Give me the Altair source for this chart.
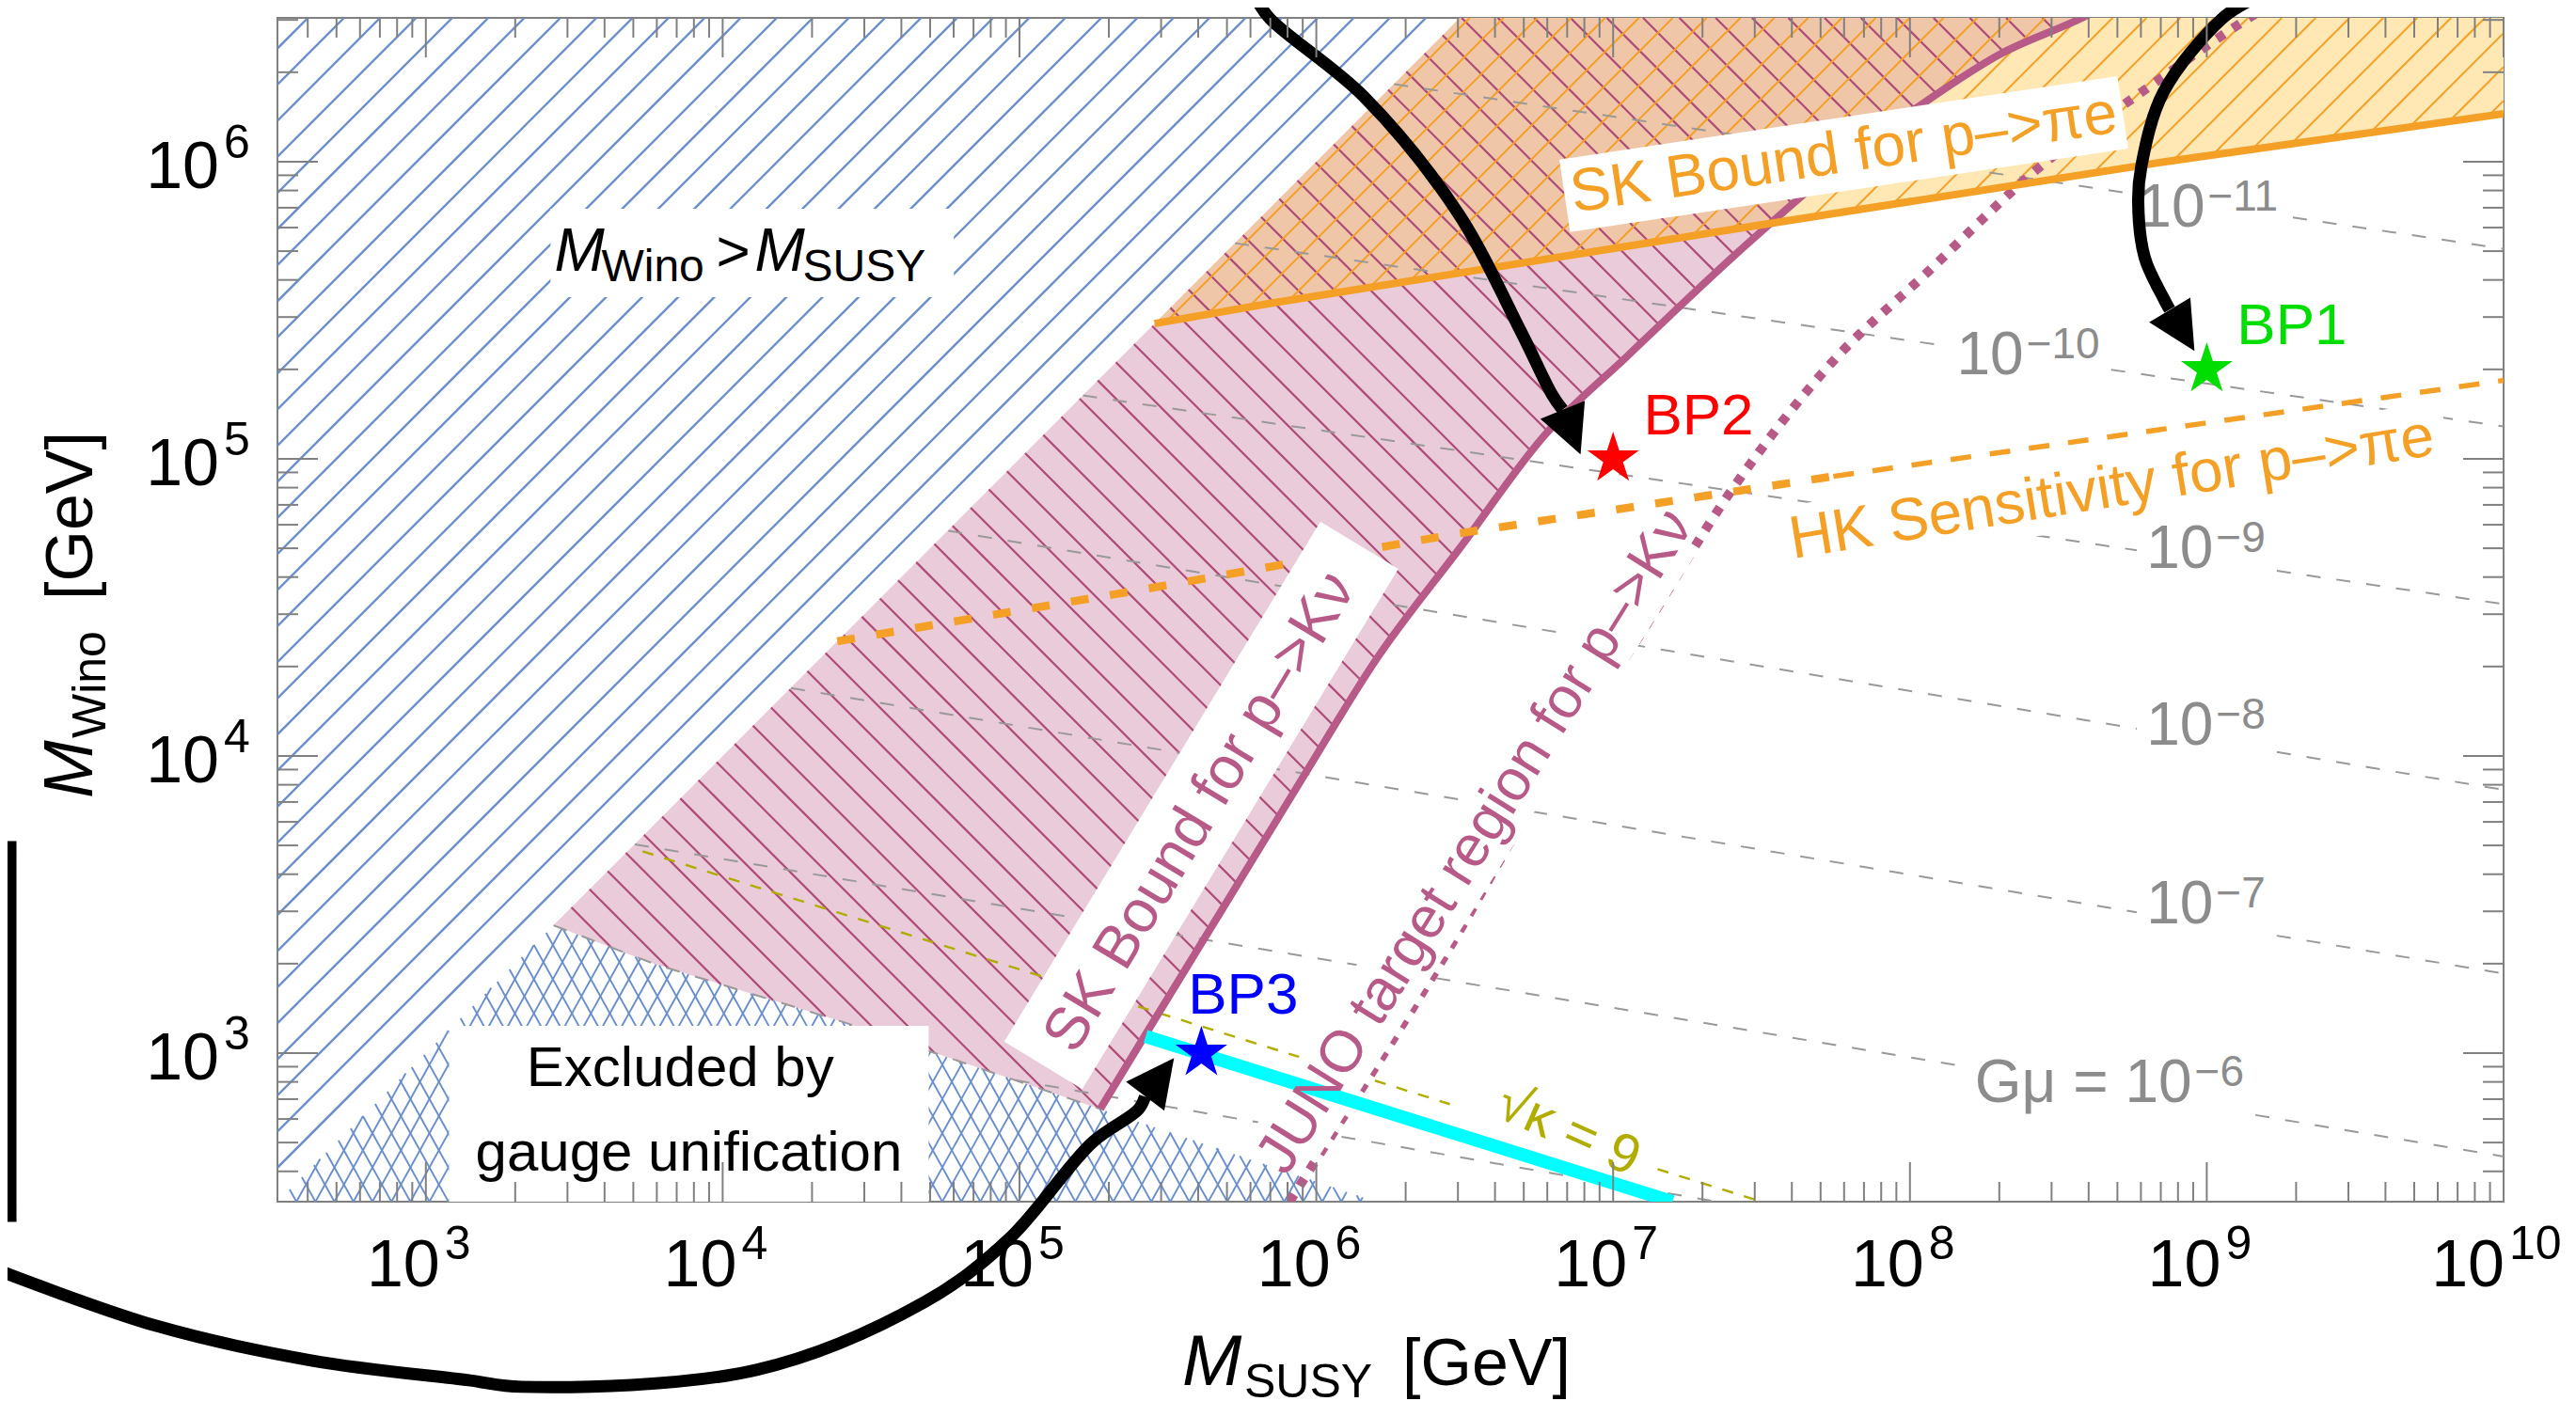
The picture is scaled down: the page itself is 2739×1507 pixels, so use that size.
import numpy as np
import pandas as pd
import altair as alt

# ---------------------------------------------------------------- layout
W, H = 2367, 1259
LX0, LX1 = 2.5, 10.0      # log10 M_SUSY range
LY0, LY1 = 2.5, 6.484     # log10 M_Wino range
PXD = W / (LX1 - LX0)     # px per decade
FONT = "Liberation Sans"

# ---------------------------------------------------------------- data (log10 GeV)
# SK bound for p -> K nu (right edge of pink region)
sk_k_lx = [5.272, 5.42, 5.683, 5.95, 6.206, 6.484, 6.77, 7.045, 7.426, 7.75, 8.05, 8.30, 8.58, 8.80]
sk_k_ly = [2.812, 3.055, 3.484, 3.92, 4.331, 4.70, 5.08, 5.343, 5.70, 5.98, 6.20, 6.36, 6.484, 6.60]
# JUNO target region for p -> K nu
juno_lx = [5.91, 5.975, 6.41, 6.877, 7.068, 7.403, 7.733, 8.059, 8.43, 8.80, 9.111, 9.20]
juno_ly = [2.50, 2.603, 3.29, 4.087, 4.372, 4.90, 5.32, 5.628, 5.976, 6.248, 6.464, 6.52]
# gauge unification boundary
gauge_lx = [3.43, 3.77, 4.39, 5.272, 6.20]
gauge_ly = [3.43, 3.30, 3.11, 2.812, 2.50]
# SK bound p -> pi e
sk_pe_lx = [5.455, 5.842, 7.426, 8.86, 10.0]
sk_pe_ly = [5.455, 5.523, 5.776, 6.00, 6.161]
# HK sensitivity p -> pi e
hk_lx = [4.386, 5.367, 6.475, 7.742, 10.0]
hk_ly = [4.386, 4.552, 4.748, 4.941, 5.264]
# sqrt(kappa) = 9
kappa_lx = [3.73, 7.50]
kappa_ly = [3.679, 2.50]
# cyan line through BP3
cyan_lx = [5.425, 7.20]
cyan_ly = [3.056, 2.50]
# G mu contours: value at M_SUSY=1e10 and one more point on each line
gmu_exp = [-11, -10, -9, -8, -7, -6, -5]
gmu_right_ly = [5.707, 5.109, 4.511, 3.886, 3.268, 2.652, 2.041]
gmu_left_lx = [6.262, 7.311, 8.446, 5.367, 6.846, 5.553, 5.557]
gmu_left_ly = [6.261, 5.497, 4.739, 4.657, 3.793, 3.394, 2.810]
gmu_lab_lx = [8.994, 8.383, 9.022, 9.022, 9.022, 8.950]
gmu_lab_ly = [5.842, 5.345, 4.694, 4.098, 3.497, 2.896]
gmu_lab_main = ["10", "10", "10", "10", "10", "G\u03bc = 10"]
gmu_lab_sup = ["\u221211", "\u221210", "\u22129", "\u22128", "\u22127", "\u22126"]
# benchmark points
bp_name = ["BP1", "BP2", "BP3"]
bp_msusy = [1e9, 1e7, 4.1e5]
bp_mwino = [2e5, 1e5, 1e3]
bp_color = ["#00dd00", "#ff0000", "#0000ff"]
bp_lab_lx = [9.101, 7.102, 5.568]
bp_lab_ly = [5.386, 5.082, 3.133]
# annotation arrows (log10 coordinates, partly outside the frame)
arrow_bp2_lx = [5.800, 5.844, 6.161, 6.478, 6.690, 6.795, 6.830]
arrow_bp2_ly = [6.544, 6.481, 6.218, 5.826, 5.427, 5.215, 5.165]
arrow_bp1_lx = [9.149, 9.051, 8.854, 8.780, 8.769, 8.791, 8.854, 8.875]
arrow_bp1_ly = [6.544, 6.481, 6.234, 5.987, 5.864, 5.677, 5.541, 5.502]
arrow_bp3_lx = [1.567, 2.092, 2.618, 3.144, 3.322, 4.114, 4.678, 4.963, 5.245, 5.400, 5.423]
arrow_bp3_ly = [2.266, 2.082, 1.965, 1.899, 1.877, 1.934, 2.161, 2.373, 2.699, 2.810, 2.854]
head_lx = [6.860, 8.917, 5.472]
head_ly = [5.090, 5.432, 2.919]
head_angle = [158, 149, 37]
bracket_lx = [1.40, 1.597, 1.597, 1.40]
bracket_ly = [3.690, 3.690, 2.456, 2.456]
# tick values
x_major = [10.0 ** e for e in range(3, 11)]
x_minor = [k * 10.0 ** e for e in range(2, 10) for k in range(2, 10) if 10 ** LX0 < k * 10.0 ** e < 10 ** LX1]
y_major = [10.0 ** e for e in range(3, 7)]
y_minor = [k * 10.0 ** e for e in range(2, 7) for k in range(2, 10) if 10 ** LY0 < k * 10.0 ** e < 10 ** LY1]

# ---------------------------------------------------------------- colors
PINK_FILL = "#eacbd9"
PINK_LINE = "#ad4a78"
PINK_CURVE = "#b85a87"
YEL_FILL = "#ffe8b4"
MIX_FILL = "#efc6a8"
ORANGE = "#f4a026"
BLUE = "#6a8ecb"
GRAY = "#999999"
OLIVE = "#b0ad00"
TICK = "#808080"

xs = alt.Scale(type="log", domain=[10 ** LX0, 10 ** LX1], nice=False)
ys = alt.Scale(type="log", domain=[10 ** LY0, 10 ** LY1], nice=False)


def XE(f="x"):
    return alt.X(f"{f}:Q", scale=xs, axis=None)


def YE(f="y"):
    return alt.Y(f"{f}:Q", scale=ys, axis=None)


def pts(lx, ly):
    lx = np.asarray(lx, float)
    ly = np.asarray(ly, float)
    return pd.DataFrame({"x": 10 ** lx, "y": 10 ** ly, "i": np.arange(len(lx))})


def line(lx, ly, color, width, dash=None, interp="linear", clip=True, cap="butt"):
    kw = dict(color=color, strokeWidth=width, interpolate=interp, clip=clip, strokeCap=cap, opacity=1)
    if dash is not None:
        kw["strokeDash"] = dash
    return alt.Chart(pts(lx, ly)).mark_line(**kw).encode(x=XE(), y=YE(), order="i:Q")


def segs_df(segs):
    a = np.array(segs, float).reshape(-1, 4)
    return pd.DataFrame({"x": 10 ** a[:, 0], "y": 10 ** a[:, 1], "x2": 10 ** a[:, 2], "y2": 10 ** a[:, 3]})


def rules(segs, color, width, dash=None, clip=True, cap="butt"):
    kw = dict(color=color, strokeWidth=width, clip=clip, strokeCap=cap, opacity=1)
    if dash is not None:
        kw["strokeDash"] = dash
    return alt.Chart(segs_df(segs)).mark_rule(**kw).encode(x=XE(), y=YE(), x2="x2:Q", y2="y2:Q")


def hatch(poly, m, dc, c0):
    P = np.asarray(poly, float)
    n = len(P)
    cv = P[:, 1] - m * P[:, 0]
    k0 = int(np.ceil((cv.min() - c0) / dc))
    k1 = int(np.floor((cv.max() - c0) / dc))
    out = []
    for k in range(k0, k1 + 1):
        c = c0 + k * dc
        hits = []
        for i in range(n):
            x1, y1 = P[i]
            x2, y2 = P[(i + 1) % n]
            f1 = y1 - m * x1 - c
            f2 = y2 - m * x2 - c
            if (f1 > 0) != (f2 > 0):
                t = f1 / (f1 - f2)
                hits.append((x1 + t * (x2 - x1), y1 + t * (y2 - y1)))
        hits.sort()
        for j in range(0, len(hits) - 1, 2):
            out.append([hits[j][0], hits[j][1], hits[j + 1][0], hits[j + 1][1]])
    return out


CW = {"0": .556, "1": .556, "2": .556, "3": .556, "4": .556, "5": .556, "6": .556, "7": .556,
      "8": .556, "9": .556, "G": .778, "\u03bc": .576, " ": .278, "=": .584, "\u2212": .584}


def tw(s, size):
    return sum(CW.get(ch, .556) for ch in s) * size


def txt(lx, ly, t, size, color="black", align="center", baseline="middle", angle=0, dx=0, dy=0,
        italic=False):
    d = pd.DataFrame({"x": 10 ** np.atleast_1d(np.asarray(lx, float)),
                      "y": 10 ** np.atleast_1d(np.asarray(ly, float)),
                      "t": list(np.atleast_1d(t))})
    kw = dict(font=FONT, fontSize=size, color=color, align=align, baseline=baseline, angle=angle,
              dx=dx, dy=dy, opacity=1)
    if italic:
        kw["fontStyle"] = "italic"
    return alt.Chart(d).mark_text(**kw).encode(x=XE(), y=YE(), text="t:N")


def ptxt(px, py, t, size, align="left", baseline="alphabetic", angle=0, italic=False):
    d = pd.DataFrame({"t": [t]})
    kw = dict(font=FONT, fontSize=size, color="black", align=align, baseline=baseline, angle=angle)
    if italic:
        kw["fontStyle"] = "italic"
    return alt.Chart(d).mark_text(**kw).encode(x=alt.value(px), y=alt.value(py), text="t:N")


def rbox(lx1, ly1, lx2, ly2, width):
    return rules([[lx1, ly1, lx2, ly2]], "white", width)


def box(lx1, lx2, ly1, ly2):
    d = pd.DataFrame({"x": [10 ** lx1], "x2": [10 ** lx2], "y": [10 ** ly1], "y2": [10 ** ly2]})
    return alt.Chart(d).mark_rect(color="white", opacity=1, clip=True).encode(
        x=XE(), x2="x2:Q", y=YE(), y2="y2:Q")


def area(lx, lylo, color):
    d = pd.DataFrame({"x": 10 ** np.asarray(lx, float), "ylo": 10 ** np.asarray(lylo, float)})
    d["yhi"] = d["x"]          # upper edge: M_Wino = M_SUSY (clipped by the frame)
    return alt.Chart(d).mark_area(color=color, opacity=1, clip=True).encode(
        x=XE(), y=YE("ylo"), y2="yhi:Q")


layers = []

# ---------------------------------------------------------------- filled regions
layers.append(area(gauge_lx[:3] + sk_k_lx, gauge_ly[:3] + sk_k_ly, PINK_FILL))
layers.append(area(sk_pe_lx, sk_pe_ly, YEL_FILL))

# overlap of the two excluded regions: above SK(p->pi e) and left of SK(p->K nu)
sk_on_pe = np.interp(sk_k_lx, sk_pe_lx, sk_pe_ly)
d_k = np.array(sk_k_ly) - sk_on_pe
j = int(np.flatnonzero(d_k > 0)[0])
t_ = -d_k[j - 1] / (d_k[j] - d_k[j - 1])
x_int = sk_k_lx[j - 1] + t_ * (sk_k_lx[j] - sk_k_lx[j - 1])
y_int = sk_k_ly[j - 1] + t_ * (sk_k_ly[j] - sk_k_ly[j - 1])
ov_lx = [v for v in sk_pe_lx if v < x_int] + [x_int] + [v for v in sk_k_lx if v > x_int]
ov_ly = [b for a, b in zip(sk_pe_lx, sk_pe_ly) if a < x_int] + [y_int] + \
        [b for a, b in zip(sk_k_lx, sk_k_ly) if a > x_int]
layers.append(area(ov_lx, ov_ly, MIX_FILL))

# ---------------------------------------------------------------- hatching
sk_in = [(a, b) for a, b in zip(sk_k_lx, sk_k_ly) if b <= LY1 + 1e-9]
pink_poly = list(zip(gauge_lx[:4], gauge_ly[:4])) + sk_in[1:] + [(LY1, LY1)]
orange_poly = list(zip(sk_pe_lx, sk_pe_ly)) + [(LX1, LY1), (LY1, LY1)]
gauge_poly = [(LX0, LY0)] + list(zip(gauge_lx, gauge_ly))
blue_poly = [(LX0, LY0), (LY1, LY1), (LX0, LY1)]

layers.append(rules(hatch(pink_poly, -1.0, 0.1223, 10.405), PINK_LINE, 2.2))
layers.append(rules(hatch(orange_poly, 1.0, 0.114, -2.769), ORANGE, 2.0))
layers.append(rules(hatch(blue_poly, 1.0, 0.1215, 1.451), BLUE, 2.4))
layers.append(rules(hatch(gauge_poly, 1.8, 0.1152, -2.0), BLUE, 1.9))
layers.append(rules(hatch(gauge_poly, -1.8, 0.1152, 7.0), BLUE, 1.9))

# ---------------------------------------------------------------- G mu contours
gx = np.arange(LX0, LX1 + 1e-9, 0.002)
gmu_segs = []
for k in range(len(gmu_exp)):
    s = (gmu_left_ly[k] - gmu_right_ly[k]) / (LX1 - gmu_left_lx[k])
    gy = gmu_right_ly[k] + s * (LX1 - gx)
    ok = (gy <= gx) & (gy >= LY0) & (gy <= LY1)
    excl = (gx < gauge_lx[0]) | ((gx <= gauge_lx[-1]) & (gy < np.interp(gx, gauge_lx, gauge_ly)))
    ok &= ~excl
    if k < len(gmu_lab_lx):
        a = gmu_lab_lx[k] - (tw(gmu_lab_main[k], 64) + 10) / PXD
        b = gmu_lab_lx[k] + (3 + tw(gmu_lab_sup[k], 46) + 12) / PXD
        ok &= ~((gx > a) & (gx < b))
    idx = np.flatnonzero(ok)
    if idx.size == 0:
        continue
    br = np.flatnonzero(np.diff(idx) > 1)
    starts = np.r_[idx[0], idx[br + 1]]
    ends = np.r_[idx[br], idx[-1]]
    for a_, b_ in zip(starts, ends):
        if b_ > a_:
            gmu_segs.append([gx[a_], gy[a_], gx[b_], gy[b_]])
layers.append(rules(gmu_segs, GRAY, 2.0, dash=[15, 17]))
layers.append(line(gauge_lx[:4], gauge_ly[:4], GRAY, 2.0, dash=[15, 17]))

# sqrt(kappa) line with a gap for its label
kap_gap = [6.45, 7.15]
kap_y_gap = list(np.interp(kap_gap, kappa_lx, kappa_ly))
kap_segs = [[kappa_lx[0], kappa_ly[0], kap_gap[0], kap_y_gap[0]],
            [kap_gap[1], kap_y_gap[1], kappa_lx[1], kappa_ly[1]]]
layers.append(rules(kap_segs, OLIVE, 2.4, dash=[12, 12]))

# ---------------------------------------------------------------- curves
layers.append(line(juno_lx, juno_ly, PINK_CURVE, 10, dash=[9, 11], interp="monotone"))
layers.append(line(sk_k_lx, sk_k_ly, PINK_CURVE, 8, interp="monotone"))
layers.append(line(sk_pe_lx, sk_pe_ly, ORANGE, 8))
layers.append(line(hk_lx[:4], hk_ly[:4], ORANGE, 8.5, dash=[19, 23]))
layers.append(line(hk_lx[3:], hk_ly[3:], ORANGE, 5.5, dash=[22, 20]))

# ---------------------------------------------------------------- white label boxes
layers.append(box(3.420, 4.779, 5.544, 5.842))
layers.append(box(3.078, 4.694, 2.40, 3.092))
layers.append(rbox(5.080, 2.959, 6.145, 4.709, 97))      # SK p->K nu
layers.append(rbox(5.900, 2.700, 7.190, 4.760, 74))      # JUNO
layers.append(rbox(6.837, 5.885, 8.717, 6.166, 78))      # SK p->pi e
layers.append(rbox(7.554, 4.717, 9.806, 5.081, 74))      # HK

# cyan line
layers.append(line(cyan_lx, cyan_ly, "#00ffff", 14))

# ---------------------------------------------------------------- stars
STAR = ("M0,-1L0.2245,-0.309L0.951,-0.309L0.363,0.118L0.588,0.809L0,0.382L-0.588,0.809"
        "L-0.363,0.118L-0.951,-0.309L-0.2245,-0.309Z")
star_df = pd.DataFrame({"x": bp_msusy, "y": bp_mwino, "c": bp_color})
layers.append(alt.Chart(star_df).mark_point(shape=STAR, size=3345, filled=True, opacity=1, strokeWidth=0).encode(
    x=XE(), y=YE(), color=alt.Color("c:N", scale=None)))

# BP labels
bpl = pd.DataFrame({"x": 10 ** np.array(bp_lab_lx), "y": 10 ** np.array(bp_lab_ly), "t": bp_name, "c": bp_color})
layers.append(alt.Chart(bpl).mark_text(font=FONT, fontSize=62, align="left", baseline="alphabetic").encode(
    x=XE(), y=YE(), text="t:N", color=alt.Color("c:N", scale=None)))

# ---------------------------------------------------------------- region labels
layers.append(txt(5.61, 3.81, "SK Bound for p\u2013>K\u03bd", 64, PINK_CURVE, angle=301))
layers.append(txt(6.535, 3.712, "JUNO target region for p\u2013>K\u03bd", 62, PINK_CURVE, angle=302))
layers.append(txt(7.777, 6.025, "SK Bound for p\u2013>\u03c0e", 64, ORANGE, angle=351.6))
layers.append(txt(8.68, 4.899, "HK Sensitivity for p\u2013>\u03c0e", 64, ORANGE, angle=350.8))
layers.append(txt(6.849, 2.737, "\u221a\u03ba = 9", 58, OLIVE, angle=24))
layers.append(txt([3.857, 3.886], [2.889, 2.604], ["Excluded by", "gauge unification"], 60,
                  baseline="alphabetic"))
# M_Wino > M_SUSY
MA_LX, MA_LY = 3.433, 5.633
layers.append(txt(MA_LX, MA_LY, "M", 64, align="left", baseline="alphabetic", italic=True))
layers.append(txt(MA_LX, MA_LY, "Wino", 48, align="left", baseline="alphabetic", dx=50, dy=11))
layers.append(txt(MA_LX, MA_LY, ">", 62, align="left", baseline="alphabetic", dx=172))
layers.append(txt(MA_LX, MA_LY, "M", 64, align="left", baseline="alphabetic", dx=213, italic=True))
layers.append(txt(MA_LX, MA_LY, "SUSY", 48, align="left", baseline="alphabetic", dx=264, dy=11))

# G mu labels
layers.append(txt(gmu_lab_lx, gmu_lab_ly, gmu_lab_main, 64, "#8c8c8c", align="right"))
layers.append(txt(gmu_lab_lx, gmu_lab_ly, gmu_lab_sup, 46, "#8c8c8c", align="left", dx=3, dy=-12))

# ---------------------------------------------------------------- arrows and bracket
layers.append(line(arrow_bp2_lx, arrow_bp2_ly, "black", 13, interp="catmull-rom", clip=False))
layers.append(line(arrow_bp1_lx, arrow_bp1_ly, "black", 13, interp="catmull-rom", clip=False))
layers.append(line(arrow_bp3_lx, arrow_bp3_ly, "black", 13, interp="catmull-rom", clip=False))
TRI = "M0,-1L1,1L-1,1Z"
head_df = pd.DataFrame({"x": 10 ** np.array(head_lx), "y": 10 ** np.array(head_ly), "a": head_angle})
layers.append(alt.Chart(head_df).mark_point(shape=TRI, size=2601, filled=True, opacity=1, color="black",
                                            strokeWidth=0, clip=False).encode(
    x=XE(), y=YE(), angle=alt.Angle("a:Q", scale=None)))
layers.append(alt.Chart(pts(bracket_lx, bracket_ly)).mark_line(
    color="black", strokeWidth=15, clip=False, strokeJoin="miter", strokeCap="butt").encode(
    x=XE(), y=YE(), order="i:Q"))


# ---------------------------------------------------------------- frame ticks
def xticks(vals, L, top):
    d = pd.DataFrame({"x": vals})
    y0, y1 = (0, L) if top else (H, H - L)
    return alt.Chart(d).mark_rule(color=TICK, strokeWidth=2).encode(
        x=XE(), y=alt.value(y0), y2=alt.value(y1))


def yticks(vals, L, right):
    d = pd.DataFrame({"y": vals})
    x0, x1 = (W, W - L) if right else (0, L)
    return alt.Chart(d).mark_rule(color=TICK, strokeWidth=2).encode(
        y=YE(), x=alt.value(x0), x2=alt.value(x1))


for top in (False, True):
    layers.append(xticks(x_major, 42, top))
    layers.append(xticks(x_minor, 21, top))
for right in (False, True):
    layers.append(yticks(y_major, 43, right))
    layers.append(yticks(y_minor, 22, right))

# ---------------------------------------------------------------- tick labels
xl = pd.DataFrame({"x": x_major[:-1], "t": ["10"] * (len(x_major) - 1),
                   "s": [str(e) for e in range(3, 10)]})
layers.append(alt.Chart(xl).mark_text(font=FONT, fontSize=70, align="right", baseline="alphabetic", dx=15).encode(
    x=XE(), y=alt.value(H + 90), text="t:N"))
layers.append(alt.Chart(xl).mark_text(font=FONT, fontSize=50, align="left", baseline="alphabetic", dx=20).encode(
    x=XE(), y=alt.value(H + 61), text="s:N"))
xl10 = pd.DataFrame({"x": [x_major[-1]], "t": ["10"], "s": ["10"]})
layers.append(alt.Chart(xl10).mark_text(font=FONT, fontSize=70, align="right", baseline="alphabetic", dx=1).encode(
    x=XE(), y=alt.value(H + 90), text="t:N"))
layers.append(alt.Chart(xl10).mark_text(font=FONT, fontSize=50, align="left", baseline="alphabetic", dx=6).encode(
    x=XE(), y=alt.value(H + 61), text="s:N"))
yl = pd.DataFrame({"y": y_major, "t": ["10"] * len(y_major), "s": [str(e) for e in range(3, 7)]})
layers.append(alt.Chart(yl).mark_text(font=FONT, fontSize=70, align="right", baseline="alphabetic", dy=28).encode(
    y=YE(), x=alt.value(-62), text="t:N"))
layers.append(alt.Chart(yl).mark_text(font=FONT, fontSize=50, align="left", baseline="alphabetic", dy=-4).encode(
    y=YE(), x=alt.value(-57), text="s:N"))

# ---------------------------------------------------------------- axis titles
layers.append(ptxt(962, H + 195, "M", 76, italic=True))
layers.append(ptxt(1028, H + 208, "SUSY", 50))
layers.append(ptxt(1196, H + 195, "[GeV]", 70))
layers.append(ptxt(-197, 830, "M", 74, angle=270, italic=True))
layers.append(ptxt(-183, 766, "Wino", 50, angle=270))
layers.append(ptxt(-197, 619, "[GeV]", 70, angle=270))

chart = alt.layer(*layers).properties(
    width=W, height=H, autosize=alt.AutoSizeParams(type="none"),
    padding={"left": 287, "top": 11, "right": 65, "bottom": 220},
    background="white",
).configure_view(stroke=TICK, strokeWidth=2)

chart.save("out.html", embed_options={"renderer": "svg", "actions": False})
